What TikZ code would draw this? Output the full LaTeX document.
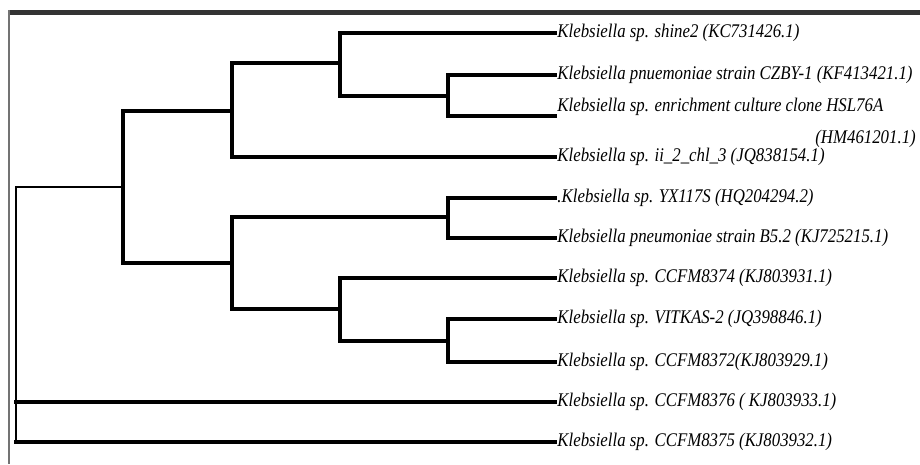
\documentclass[tikz,border=0pt]{standalone}
\usepackage{fontspec}
\setmainfont{Liberation Serif}
\usepackage{graphicx}
\usepackage{xcolor}
\definecolor{framegray}{rgb}{0.2, 0.2, 0.2}
\definecolor{rulegray}{rgb}{0.45, 0.45, 0.45}
\newcommand{\taxon}[1]{\scalebox{0.87}[1]{#1}}
\tikzset{
    branch/.style={
        line width=2.1pt,
        line cap=rect,
        line join=miter,
    },
    thinbranch/.style={
        branch,
        line width=1.1pt,
    },
    leaf/.style={
        anchor=west,
        inner xsep=1.2pt,
        inner ysep=0pt,
        font=\fontsize{11}{18}\selectfont\itshape,
    },
}

\begin{document}
\begin{tikzpicture}[x=0.02cm, y=-0.02cm]
    \useasboundingbox (0,0) rectangle (920,464);
    % Frame, a dark band on top and a thin rule on the left
    \fill[framegray] (8,10) rectangle (920,15);
    \draw[rulegray, line width=1pt] (9,10) -- (9,464);

    % Inner nodes of the tree
    \coordinate (root) at (16,187);
    \coordinate (nA) at (123,187);
    \coordinate (nB) at (232,111);
    \coordinate (nC) at (232,263);
    \coordinate (nD) at (340,63);
    \coordinate (nE) at (448,96);
    \coordinate (nF) at (448,217);
    \coordinate (nG) at (340,309);
    \coordinate (nH) at (448,341);
    % the two-line name sits a little below its branch
    \coordinate (hsltip) at (555,116);

    % Leaves, with their names
    \node[leaf] (shine) at (555,33) {\taxon{Klebsiella sp. shine2 (KC731426.1)}};
    \node[leaf] (czby) at (555,75) {\taxon{Klebsiella pnuemoniae strain CZBY-1 (KF413421.1)}};
    \node[leaf] (hsl) at (555,121) {\taxon{\begin{tabular}{@{}l@{}}Klebsiella sp. enrichment culture clone HSL76A\\
      \hspace*{5.93cm}(HM461201.1)\end{tabular}}};
    \node[leaf] (chl) at (555,157) {\taxon{Klebsiella sp. ii\_2\_chl\_3 (JQ838154.1)}};
    \node[leaf] (yx) at (555,198) {\taxon{.Klebsiella sp. YX117S (HQ204294.2)}};
    \node[leaf] (bfive) at (555,238) {\taxon{Klebsiella pneumoniae strain B5.2 (KJ725215.1)}};
    \node[leaf] (cc74) at (555,278) {\taxon{Klebsiella sp. CCFM8374 (KJ803931.1)}};
    \node[leaf] (vitkas) at (555,319) {\taxon{Klebsiella sp. VITKAS-2 (JQ398846.1)}};
    \node[leaf] (cc72) at (555,362) {\taxon{Klebsiella sp. CCFM8372(KJ803929.1)}};
    \node[leaf] (cc76) at (555,402) {\taxon{Klebsiella sp. CCFM8376 ( KJ803933.1)}};
    \node[leaf] (cc75) at (555,442) {\taxon{Klebsiella sp. CCFM8375 (KJ803932.1)}};

    % Root, thinner than the rest
    \draw[thinbranch] (nA) -- (root) -- (root |- cc75.west);
    \draw[branch] (root |- cc76.west) -- (cc76.west);
    \draw[branch] (root |- cc75.west) -- (cc75.west);
    % Elbows, upper child -| parent |- lower child
    \foreach \parent/\upper/\lower in {nA/nB/nC, nB/nD/chl.west, nD/shine.west/nE,
      nE/czby.west/hsltip, nC/nF/nG, nF/yx.west/bfive.west,
      nG/cc74.west/nH, nH/vitkas.west/cc72.west}
      \draw[branch] (\upper) -| (\parent) |- (\lower);
\end{tikzpicture}
\end{document}
